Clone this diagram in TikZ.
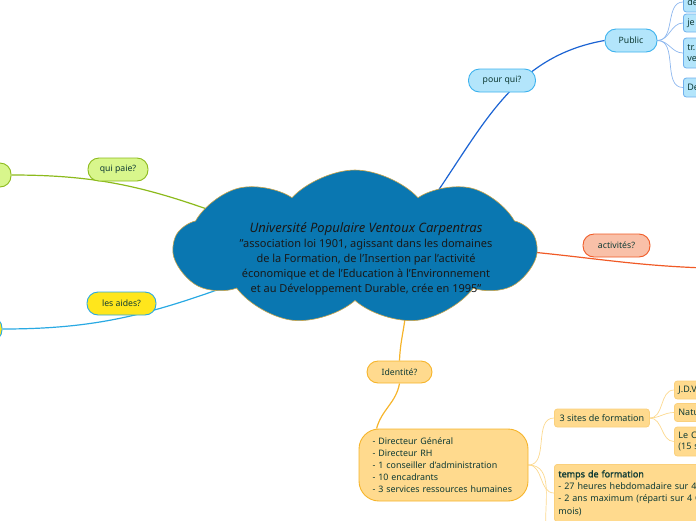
\documentclass[tikz,border=0pt]{standalone}
\usepackage{fontspec}
\setmainfont{Noto Sans}
\newfontfamily\headfont{Noto Sans}[FakeBold=1.6]
\usetikzlibrary{shapes.symbols,backgrounds}

\definecolor{cloudblue}{HTML}{0A77B1}
\definecolor{cloudrim}{HTML}{C9A44A}
\definecolor{darktext}{HTML}{0F3B35}
\definecolor{blueline}{HTML}{1B63D3}
\definecolor{bluefill}{HTML}{B3E5FB}
\definecolor{blueedge}{HTML}{3DB2EE}
\definecolor{paleblueline}{HTML}{8DB7EE}
\definecolor{leafblueedge}{HTML}{6FB0EE}
\definecolor{greenfill}{HTML}{D8F68C}
\definecolor{greenline}{HTML}{8CBA1C}
\definecolor{yellowfill}{HTML}{FFE61C}
\definecolor{cyanline}{HTML}{29A9E3}
\definecolor{salmonfill}{HTML}{F9C0A8}
\definecolor{redline}{HTML}{F05A26}
\definecolor{orangefill}{HTML}{FFDA8E}
\definecolor{orangeline}{HTML}{F6B42A}
\definecolor{paleorangeline}{HTML}{FCD98F}
\definecolor{leaforangeedge}{HTML}{FAD07C}

\tikzset{
  topic/.style={draw, rounded corners=11pt, line width=0.9pt, minimum height=23pt,
    inner xsep=8pt, font=\fontsize{8.7}{10}\selectfont, text=darktext},
  leaf/.style={draw, rounded corners=3pt, line width=0.8pt, minimum height=18pt,
    inner xsep=4pt, anchor=west, align=left, font=\fontsize{9}{11}\selectfont, text=darktext},
  branch/.style={line width=1.2pt},
  twig/.style={line width=0.7pt},
}

\begin{document}
\begin{tikzpicture}[x=1pt,y=1pt]
	\useasboundingbox (0,0) rectangle (696,-520);
	\clip (0,0) rectangle (696,-520);

	% Define nodes
	\node[cloud, cloud puffs=9, cloud puff arc=95, cloud ignores aspect,
	  minimum width=362pt, minimum height=155pt,
	  fill=cloudblue, draw=cloudrim, line width=0.6pt, inner sep=0pt] (uni) at (355,-247.5) {};
	\node[align=center, text=black!90, font=\fontsize{11}{15}\selectfont] (unitext) at ([shift={(11,-11)}]uni.center)
	  {{\fontsize{13}{15}\selectfont\itshape Université Populaire Ventoux Carpentras}\\
	   "association loi 1901, agissant dans les domaines\\
	   de la Formation, de l'Insertion par l'activité\\
	   économique et de l'Education à l'Environnement\\
	   et au Développement Durable, crée en 1995"};

	\node[topic, fill=bluefill, draw=blueedge, minimum width=67pt] (pourqui) at (502,-80.5) {pour qui?};
	\node[topic, fill=bluefill, draw=blueedge, minimum width=52pt] (public) at (631,-40.5) {Public};
	\node[leaf, fill=bluefill, draw=leafblueedge, text width=32pt, minimum height=20pt] (pub1) at (683,-2) {de};
	\node[leaf, fill=bluefill, draw=leafblueedge, text width=32pt] (pub2) at (683,-23) {je};
	\node[leaf, fill=bluefill, draw=leafblueedge, text width=32pt, minimum height=30pt] (pub3) at (683,-53) {tr.\\ve};
	\node[leaf, fill=bluefill, draw=leafblueedge, text width=32pt, minimum height=19pt] (pub4) at (683,-87.5) {De};

	\node[topic, fill=greenfill, draw=greenline, minimum width=60pt] (quipaie) at (118,-169.5) {qui paie?};
	\node[topic, fill=greenfill, draw=greenline, minimum width=40pt, minimum height=24pt] (payeur) at (-9,-175) {};

	\node[topic, fill=yellowfill, draw=cyanline, minimum width=69pt] (aides) at (121.5,-303.5) {les aides?};
	\node[topic, fill=yellowfill, draw=cyanline, minimum width=40pt, minimum height=24pt] (aide) at (-18,-329) {};

	\node[topic, fill=salmonfill, draw=redline, minimum width=67pt] (activites) at (616.5,-245.5) {activités?};
	\coordinate (actend) at (705,-268);

	\node[topic, fill=orangefill, draw=orangeline, minimum width=65pt, minimum height=22pt] (identite) at (399.5,-372) {Identité?};
	\node[topic, fill=orangefill, draw=orangeline, rounded corners=20pt, minimum width=169pt, minimum height=72pt,
	  align=left, text width=142pt, font=\fontsize{8.9}{12}\selectfont] (equipe) at (443.5,-465)
	  {- Directeur Général\\
	   - Directeur RH\\
	   - 1 conseiller d'administration\\
	   - 10 encadrants\\
	   - 3 services ressources humaines};

	\node[leaf, fill=orangefill, draw=leaforangeedge, minimum width=95pt] (sites) at (554,-418) {3 sites de formation};
	\node[leaf, fill=orangefill, draw=leaforangeedge, text width=32pt] (site1) at (674,-390) {J.D.V};
	\node[leaf, fill=orangefill, draw=leaforangeedge, text width=32pt] (site2) at (674,-412.5) {Natu};
	\node[leaf, fill=orangefill, draw=leaforangeedge, text width=32pt, minimum height=29pt] (site3) at (674,-441.5) {Le C\\(15 s};
	\node[leaf, fill=orangefill, draw=leaforangeedge, anchor=north west, text width=200pt,
	  inner ysep=6pt, font=\fontsize{9}{12.3}\selectfont] (temps) at (554,-464)
	  {{\headfont temps de formation}\\
	   - 27 heures hebdomadaire sur 4\\
	   - 2 ans maximum (réparti sur 4 C\\
	   mois)};
	\coordinate (offbelow) at (546,-530);

	% Connect the nodes
	\begin{scope}[on background layer]
		\draw[branch, blueline] (uni.center) ++(75,45) to[out=55,in=190] (public.west);
		\draw[twig, paleblueline] (public.east) to[out=0,in=180] (pub1.west);
		\draw[twig, paleblueline] (public.east) to[out=0,in=180] (pub2.west);
		\draw[twig, paleblueline] (public.east) to[out=0,in=180] (pub3.west);
		\draw[twig, paleblueline] (public.east) to[out=0,in=180] (pub4.west);

		\draw[branch, greenline] (uni.center) ++(-130,32) to[out=160,in=0] (payeur.east);
		\draw[branch, cyanline] (uni.center) ++(-120,-36) to[out=200,in=0] (aide.east);
		\draw[branch, redline] (uni.center) ++(160,-3) to[out=-5,in=178] (actend);

		\draw[branch, orangeline] (uni.center) ++(51,-58) to[out=-92,in=88] (identite.north);
		\draw[branch, orangeline] (identite.south) to[out=-100,in=75] ([xshift=18pt]equipe.north west);

		\draw[twig, paleorangeline] (equipe.east) to[out=0,in=180] (sites.west);
		\draw[twig, paleorangeline] (equipe.east) to[out=0,in=180] (temps.west);
		\draw[twig, paleorangeline] (equipe.east) to[out=0,in=95] (offbelow);
		\draw[twig, paleorangeline] (sites.east) to[out=0,in=180] (site1.west);
		\draw[twig, paleorangeline] (sites.east) to[out=0,in=180] (site2.west);
		\draw[twig, paleorangeline] (sites.east) to[out=0,in=180] (site3.west);
	\end{scope}
\end{tikzpicture}
\end{document}
